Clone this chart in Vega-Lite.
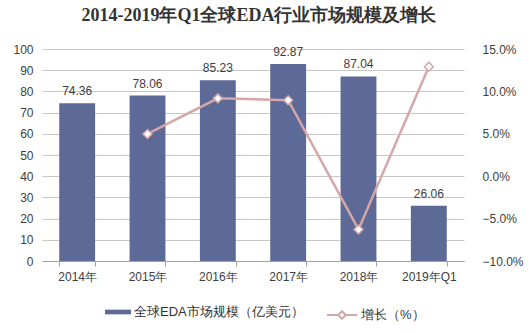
{
  "$schema": "https://vega.github.io/schema/vega-lite/v6.json",
  "width": 422,
  "height": 212,
  "autosize": {"type": "none"},
  "padding": {"left": 42, "top": 49, "right": 66, "bottom": 72},
  "background": "white",
  "title": {
    "text": "2014-2019年Q1全球EDA行业市场规模及增长",
    "font": "Liberation Serif",
    "fontSize": 18,
    "fontWeight": "bold",
    "color": "#333333",
    "anchor": "middle",
    "frame": "group",
    "dx": 6,
    "offset": 18
  },
  "data": {
    "values": [
      {"year": "2014年", "size": 74.36, "growth": null},
      {"year": "2015年", "size": 78.06, "growth": 0.0498},
      {"year": "2016年", "size": 85.23, "growth": 0.0918},
      {"year": "2017年", "size": 92.87, "growth": 0.0896},
      {"year": "2018年", "size": 87.04, "growth": -0.0628},
      {"year": "2019年Q1", "size": 26.06, "growth": 0.129}
    ]
  },
  "encoding": {
    "x": {
      "field": "year",
      "type": "nominal",
      "sort": null,
      "title": null,
      "scale": {"paddingInner": 0.49, "paddingOuter": 0.245},
      "axis": {
        "labelAngle": 0,
        "labelFontSize": 12,
        "labelColor": "#404040",
        "labelPadding": 5,
        "domainColor": "#a0a0a0",
        "tickColor": "#a0a0a0",
        "tickSize": 5,
        "tickBand": "extent",
        "grid": false
      }
    }
  },
  "layer": [
    {
      "encoding": {
        "y": {
          "field": "size",
          "type": "quantitative",
          "title": null,
          "scale": {"domain": [0, 100], "nice": false},
          "axis": {
            "values": [0, 10, 20, 30, 40, 50, 60, 70, 80, 90, 100],
            "grid": true,
            "gridColor": "#c8c8c8",
            "domain": false,
            "ticks": false,
            "labelPadding": 9,
            "labelFontSize": 12,
            "labelColor": "#404040"
          }
        }
      },
      "layer": [
        {
          "mark": {"type": "bar"},
          "encoding": {
            "fill": {
              "datum": "全球EDA市场规模（亿美元）",
              "type": "nominal",
              "scale": {"range": ["#5d6996"]},
              "legend": {
                "title": null,
                "orient": "bottom",
                "symbolType": "M-1,-0.18H1V0.18H-1Z",
                "symbolSize": 676,
                "symbolStrokeWidth": 0,
                "symbolOffset": 24,
                "labelFontSize": 13,
                "labelLimit": 400,
                "labelColor": "#333333",
                "labelOffset": 3
              }
            }
          }
        },
        {
          "mark": {"type": "text", "dy": -12, "fontSize": 12, "color": "#404040"},
          "encoding": {"text": {"field": "size", "type": "quantitative", "format": ".2f"}}
        }
      ]
    },
    {
      "transform": [{"filter": "datum.growth != null"}],
      "encoding": {
        "y": {
          "field": "growth",
          "type": "quantitative",
          "title": null,
          "scale": {"domain": [-0.1, 0.15], "nice": false},
          "axis": {
            "orient": "right",
            "format": ".1%",
            "values": [-0.1, -0.05, 0, 0.05, 0.1, 0.15],
            "grid": false,
            "domain": false,
            "ticks": false,
            "labelPadding": 18,
            "labelFontSize": 12,
            "labelColor": "#404040"
          }
        },
        "stroke": {
          "datum": "增长（%）",
          "type": "nominal",
          "scale": {"range": ["#d4a7aa"]},
          "legend": {
            "title": null,
            "orient": "bottom",
            "symbolType": "M-1,0H-0.25M0.25,0H1M0,-0.25L0.25,0L0,0.25L-0.25,0Z",
            "symbolSize": 900,
            "symbolFillColor": "white",
            "symbolStrokeWidth": 2,
            "labelFontSize": 13,
            "labelLimit": 400,
            "labelColor": "#333333",
            "labelOffset": 3
          }
        }
      },
      "layer": [
        {"mark": {"type": "line", "strokeWidth": 2.5}},
        {"mark": {"type": "point", "shape": "diamond", "filled": true, "fill": "white", "size": 80, "strokeWidth": 1.5, "opacity": 1}}
      ]
    }
  ],
  "resolve": {"scale": {"y": "independent"}},
  "config": {
    "font": "Liberation Sans",
    "view": {"stroke": null},
    "legend": {"layout": {"bottom": {"anchor": "middle", "direction": "horizontal", "margin": 22, "offset": 17}}}
  }
}
